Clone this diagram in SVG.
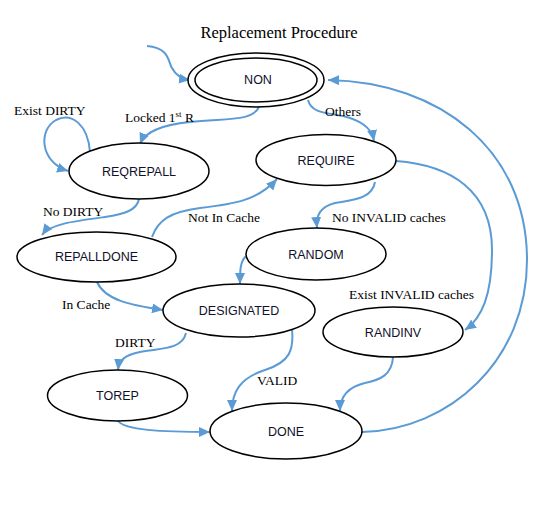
<svg xmlns="http://www.w3.org/2000/svg" width="550" height="508" viewBox="0 0 550 508">
<style>
.node{fill:#fff;stroke:#000;stroke-width:1.5}
.nt{font-family:"Liberation Sans",Arial,sans-serif;font-size:12.5px;fill:#10102a;text-anchor:middle;dominant-baseline:central}
.lb{font-family:"Liberation Serif","Times New Roman",serif;font-size:13.5px;fill:#000}
.title{font-family:"Liberation Serif","Times New Roman",serif;font-size:16.5px;fill:#000;text-anchor:middle}
.edge{fill:none;stroke:#5B9BD5;stroke-width:2}
</style>
<defs>
<marker id="ah" markerUnits="userSpaceOnUse" markerWidth="12" markerHeight="10" refX="11" refY="5" orient="auto">
<path d="M0,0 L11,5 L0,10 Z" fill="#5B9BD5"/>
</marker>
</defs>
<rect width="550" height="508" fill="#fff"/>
<text class="title" x="279" y="38">Replacement Procedure</text>
<g id="connectors">
<path class="edge" marker-end="url(#ah)" d="M147,46 C170,48 168,62 172,68 C176,76 182,79 190,80"/>
<path class="edge" marker-end="url(#ah)" d="M259,107 C252,122 225,118 190,122 C160,125 145,132 140,144"/>
<path class="edge" marker-end="url(#ah)" d="M90,152 C88,125 72,112 56,120 C38,130 40,162 68,171"/>
<path class="edge" marker-end="url(#ah)" d="M308,100 C312,115 330,112 350,118 C365,123 372,130 374,141"/>
<path class="edge" marker-end="url(#ah)" d="M139,199 C137,210 125,214 105,217 C75,221 50,224 42,235"/>
<path class="edge" marker-end="url(#ah)" d="M152,237 C158,220 170,212 200,208 C235,204 258,200 277,179"/>
<path class="edge" marker-end="url(#ah)" d="M375,182 C372,200 350,200 335,203 C320,207 316,215 317,228"/>
<path class="edge" marker-end="url(#ah)" d="M396,161 C450,165 492,190 492,250 C492,295 482,318 465,330"/>
<path class="edge" marker-end="url(#ah)" d="M362,432 C450,430 527,360 527,260 C527,150 440,82 328,80"/>
<path class="edge" marker-end="url(#ah)" d="M246,256 C240,262 240,270 240,284"/>
<path class="edge" marker-end="url(#ah)" d="M97,282 C105,300 130,305 163,310"/>
<path class="edge" marker-end="url(#ah)" d="M186,333 C182,350 160,348 140,352 C125,355 119,360 118,370"/>
<path class="edge" marker-end="url(#ah)" d="M292,329 C294,350 290,362 265,370 C240,378 232,392 232,411"/>
<path class="edge" marker-end="url(#ah)" d="M393,357 C392,375 380,380 365,383 C348,387 340,396 340,411"/>
<path class="edge" marker-end="url(#ah)" d="M118,421 C125,430 160,432 210,432"/>
</g>
<g id="labels">
<text class="lb" x="14" y="115">Exist DIRTY</text>
<text class="lb" x="125" y="122">Locked 1<tspan font-size="9" dy="-5">st</tspan><tspan dy="5"> R</tspan></text>
<text class="lb" x="325" y="116">Others</text>
<text class="lb" x="43" y="216">No DIRTY</text>
<text class="lb" x="188" y="222">Not In Cache</text>
<text class="lb" x="332" y="222">No INVALID caches</text>
<text class="lb" x="62" y="309">In Cache</text>
<text class="lb" x="349" y="299">Exist INVALID caches</text>
<text class="lb" x="115" y="347">DIRTY</text>
<text class="lb" x="257" y="385">VALID</text>
</g>
<g id="NON">
<ellipse class="node" cx="256" cy="80" rx="68" ry="27"/>
<ellipse class="node" cx="256" cy="80" rx="61" ry="22"/>
<text class="nt" x="258" y="80">NON</text>
</g>
<g id="REQREPALL">
<ellipse class="node" cx="139" cy="171" rx="70" ry="28"/>
<text class="nt" x="139" y="172">REQREPALL</text>
</g>
<g id="REQUIRE">
<ellipse class="node" cx="326" cy="160" rx="70" ry="25.5"/>
<text class="nt" x="326" y="161">REQUIRE</text>
</g>
<g id="REPALLDONE">
<ellipse class="node" cx="96.5" cy="257" rx="79.5" ry="25"/>
<text class="nt" x="96.5" y="257">REPALLDONE</text>
</g>
<g id="RANDOM">
<ellipse class="node" cx="316" cy="254" rx="70" ry="26"/>
<text class="nt" x="316" y="255">RANDOM</text>
</g>
<g id="DESIGNATED">
<ellipse class="node" cx="239" cy="310.5" rx="76" ry="26.5"/>
<text class="nt" x="239" y="311">DESIGNATED</text>
</g>
<g id="RANDINV">
<ellipse class="node" cx="393" cy="332" rx="70" ry="25"/>
<text class="nt" x="393" y="333">RANDINV</text>
</g>
<g id="TOREP">
<ellipse class="node" cx="117.5" cy="395.5" rx="70" ry="25.5"/>
<text class="nt" x="117.5" y="396">TOREP</text>
</g>
<g id="DONE">
<ellipse class="node" cx="286" cy="431" rx="76" ry="28"/>
<text class="nt" x="286" y="432">DONE</text>
</g>
</svg>
